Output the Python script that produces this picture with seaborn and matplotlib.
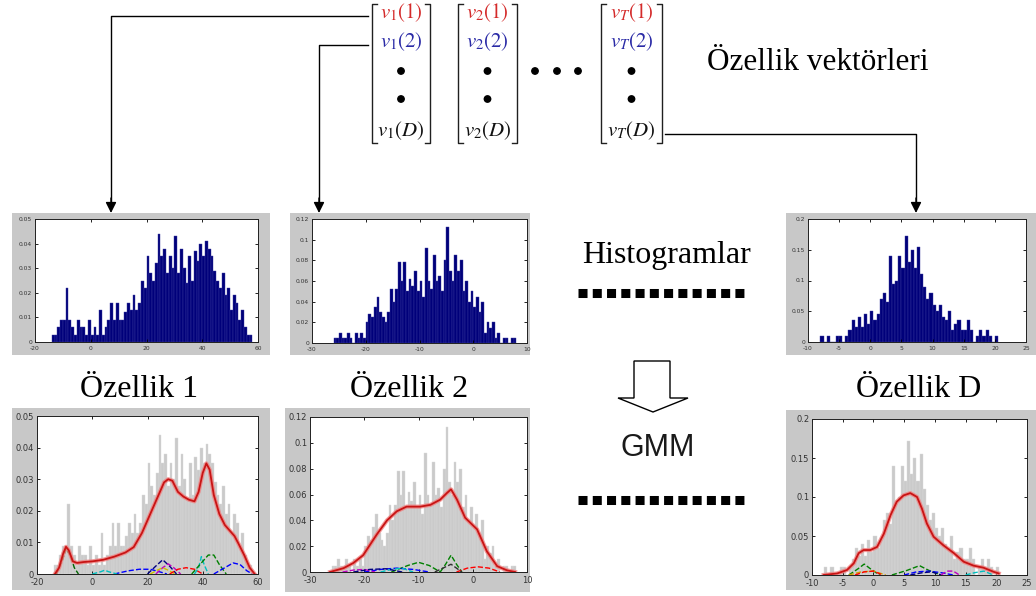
import numpy as np
import pandas as pd
import matplotlib
matplotlib.use("Agg")
import matplotlib.pyplot as plt
from matplotlib.patches import Rectangle, Polygon, Circle
import seaborn as sns

# histogram bin heights
f1_start, f1_width = -14, 1.0
f1_heights = [0.003, 0.003, 0.006, 0.009, 0.009, 0.022, 0.009, 0.006, 0.003, 0.009,
              0.006, 0.006, 0.003, 0.009, 0.003, 0.006, 0.003, 0.013, 0.003, 0.006,
              0.009, 0.016, 0.009, 0.016, 0.009, 0.009, 0.012, 0.016, 0.013, 0.019,
              0.013, 0.016, 0.025, 0.022, 0.035, 0.028, 0.025, 0.032, 0.044, 0.035,
              0.038, 0.028, 0.035, 0.030, 0.043, 0.028, 0.038, 0.030, 0.024, 0.035,
              0.025, 0.037, 0.033, 0.040, 0.035, 0.041, 0.038, 0.035, 0.029, 0.025,
              0.022, 0.028, 0.019, 0.022, 0.013, 0.019, 0.016, 0.009, 0.013, 0.006,
              0.003, 0.003]

f2_start, f2_width = -26, 0.5
f2_heights = [0.005, 0.005, 0.010, 0.005, 0.005, 0.010, 0.005, 0.0, 0.010, 0.005,
              0.010, 0.005, 0.020, 0.028, 0.025, 0.035, 0.045, 0.030, 0.025, 0.020,
              0.030, 0.052, 0.040, 0.052, 0.078, 0.060, 0.078, 0.050, 0.062, 0.055,
              0.070, 0.050, 0.060, 0.045, 0.092, 0.060, 0.052, 0.085, 0.060, 0.065,
              0.050, 0.080, 0.112, 0.070, 0.060, 0.085, 0.070, 0.080, 0.050, 0.060,
              0.040, 0.050, 0.035, 0.045, 0.030, 0.040, 0.010, 0.020, 0.015, 0.020,
              0.005, 0.010, 0.0, 0.005, 0.005, 0.0, 0.005, 0.005]

fD_start, fD_width = -8, 0.5
fD_heights = [0.01, 0.0, 0.01, 0.0, 0.0, 0.01, 0.01, 0.0, 0.01, 0.02,
              0.035, 0.025, 0.04, 0.025, 0.045, 0.03, 0.05, 0.035, 0.045, 0.07,
              0.08, 0.065, 0.14, 0.095, 0.10, 0.14, 0.12, 0.172, 0.13, 0.15,
              0.12, 0.155, 0.11, 0.09, 0.07, 0.08, 0.06, 0.05, 0.06, 0.04,
              0.035, 0.05, 0.02, 0.03, 0.035, 0.02, 0.02, 0.035, 0.02, 0.0,
              0.01, 0.02, 0.01, 0.02, 0.01, 0.0, 0.01]

# GMM total density (red curve)
gmm1_x = [-13.5, -12, -10.5, -9.5, -8.5, -7, -5.5, -3, 0, 4, 8, 12, 15, 18, 21, 24, 26,
          27.5, 29, 31, 33, 35, 37, 38.5, 40, 41.3, 42.5, 44, 46, 48, 50, 51.5, 53, 55,
          57, 58.8]
gmm1_y = [0, 0.002, 0.0065, 0.0086, 0.0075, 0.004, 0.0035, 0.0038, 0.004, 0.0045,
          0.0055, 0.0068, 0.0085, 0.013, 0.019, 0.025, 0.029, 0.030, 0.0295, 0.026,
          0.0245, 0.0235, 0.023, 0.026, 0.032, 0.035, 0.033, 0.025, 0.019, 0.0155,
          0.0135, 0.012, 0.0095, 0.006, 0.002, 0.0]

gmm2_x = [-26.3, -23.8, -22, -20.2, -17.7, -15.8, -14, -12.2, -9.7, -7.8, -6, -4.8, -4,
          -2.9, -1.4, 0.8, 2.6, 4.5, 6.3, 7.8]
gmm2_y = [0, 0.003, 0.007, 0.013, 0.029, 0.040, 0.047, 0.0506, 0.0506, 0.052, 0.056,
          0.061, 0.064, 0.056, 0.042, 0.033, 0.016, 0.0045, 0.0013, 0]

gmmD_x = [-8.1, -5.9, -4.3, -3.2, -2.4, -1.6, -0.5, 0.6, 1.7, 2.8, 3.8, 4.9, 6.0, 7.1,
          7.9, 8.7, 9.8, 11.4, 13.1, 14.7, 16.3, 17.9, 19.6, 20.4]
gmmD_y = [0, 0.002, 0.0064, 0.015, 0.028, 0.032, 0.032, 0.036, 0.053, 0.077, 0.094,
          0.102, 0.105, 0.100, 0.085, 0.066, 0.049, 0.038, 0.028, 0.017, 0.012, 0.0094,
          0.004, 0.002]

# mixture components (dashed)
comp1 = [([-13, -11, -9.5, -8, -6.5, -5], [0, 0.004, 0.008, 0.006, 0.002, 0], "#006400"),
         ([8, 13, 17, 21, 24, 27], [0, 0.001, 0.0015, 0.0015, 0.0008, 0], "#0000ff"),
         ([20, 23, 25.5, 28, 30.5], [0, 0.0025, 0.0045, 0.0025, 0], "#000080"),
         ([23, 25.5, 27.5, 29.5, 32], [0, 0.002, 0.0032, 0.002, 0], "#bf00bf"),
         ([21, 23.5, 25.5, 27.5, 30], [0, 0.0012, 0.002, 0.0012, 0], "#d0c000"),
         ([28, 31, 34, 37, 40], [0, 0.0015, 0.002, 0.0015, 0], "#ff0000"),
         ([37, 38.5, 39.5, 40.5, 42], [0, 0.002, 0.0055, 0.003, 0], "#00bfbf"),
         ([36, 39, 42, 44, 46, 48.5], [0, 0.003, 0.006, 0.006, 0.003, 0], "#008000"),
         ([44, 47, 51, 53.5, 56, 58], [0, 0.0015, 0.0035, 0.003, 0.001, 0], "#0000ff"),
         ([0, 3, 4.5, 6, 9], [0, 0.0007, 0.0012, 0.0007, 0], "#00bfbf")]

comp2 = [([-15, -12, -10, -8, -6], [0, 0.005, 0.0075, 0.005, 0], "#008000"),
         ([-6, -5, -4, -3, -2], [0, 0.006, 0.013, 0.006, 0], "#008000"),
         ([-20, -17, -14, -11, -8], [0, 0.002, 0.003, 0.002, 0], "#0000ff"),
         ([-17, -15, -13, -11], [0, 0.002, 0.003, 0], "#00bfbf"),
         ([-24, -22, -20, -18], [0, 0.0015, 0.002, 0], "#bf00bf"),
         ([-22, -19, -16, -13], [0, 0.002, 0.0025, 0], "#000080"),
         ([-3, -1, 1, 3, 5], [0, 0.003, 0.004, 0.003, 0], "#ff0000"),
         ([-7, -5, -4, -2], [0, 0.004, 0.006, 0], "#303030")]

compD = [([-4, -2.5, -1.5, -0.5, 1], [0, 0.008, 0.014, 0.008, 0], "#008000"),
         ([-4, -2, 0, 2], [0, 0.004, 0.005, 0], "#d0a000"),
         ([-3, -1.5, 0, 1.5], [0, 0.004, 0.005, 0], "#ff0000"),
         ([3, 5.5, 7.5, 9, 11], [0, 0.006, 0.012, 0.006, 0], "#008000"),
         ([5, 7, 9, 11, 13], [0, 0.004, 0.005, 0.003, 0], "#0000ff"),
         ([6, 8, 9.5, 11], [0, 0.003, 0.004, 0], "#000080"),
         ([11, 12, 13, 14], [0, 0.005, 0.005, 0], "#bf00bf"),
         ([15, 16.5, 18, 19.5], [0, 0.003, 0.005, 0], "#00bfbf")]

f1_xticks = [-20, 0, 20, 40, 60]
f1_yticks = [0, 0.01, 0.02, 0.03, 0.04, 0.05]
f2_xticks = [-30, -20, -10, 0, 10]
f2_yticks = [0, 0.02, 0.04, 0.06, 0.08, 0.1, 0.12]
fD_xticks = [-10, -5, 0, 5, 10, 15, 20, 25]
fD_yticks = [0, 0.05, 0.1, 0.15, 0.2]

W, H = 1036, 596
plt.rcParams["mathtext.fontset"] = "stix"
fig = plt.figure(figsize=(W / 100, H / 100), dpi=100)
fig.patch.set_facecolor("white")


def rect(l, t, r, b):
    return [l / W, 1 - b / H, (r - l) / W, (b - t) / H]


def frame(l, t, r, b):
    fig.patches.append(Rectangle((l / W, 1 - b / H), (r - l) / W, (b - t) / H,
                                 transform=fig.transFigure, facecolor="#c8c8c8",
                                 edgecolor="none", zorder=-5))


def fmt(v):
    return "0" if v == 0 else f"{v:g}"


def style_axes(ax, xlim, ylim, xticks, yticks, fs):
    ax.set_xlim(*xlim)
    ax.set_ylim(*ylim)
    ax.set_xticks(xticks)
    ax.set_yticks(yticks)
    ax.set_xticklabels([fmt(v) for v in xticks])
    ax.set_yticklabels([fmt(v) for v in yticks])
    ax.tick_params(direction="in", top=True, right=True, length=2.5, width=0.6,
                   labelsize=fs, labelcolor="#333333")
    ax.tick_params(axis="x", pad=3)
    ax.tick_params(axis="y", pad=2)
    for s in ax.spines.values():
        s.set_linewidth(0.7)
        s.set_color("#202020")
    ax.set_xlabel("")
    ax.set_ylabel("")
    ax.set_facecolor("white")


def draw_hist(ax, start, width, heights, color, edge):
    n = len(heights)
    centers = start + width * (np.arange(n) + 0.5)
    df = pd.DataFrame({"c": centers, "h": heights})
    sns.histplot(data=df, x="c", weights="h", binwidth=width,
                 binrange=(start, start + n * width), color=color,
                 edgecolor=edge, linewidth=0.3, alpha=1, ax=ax)


panels = [
    (f1_start, f1_width, f1_heights, (-20, 60), (0, 0.05), f1_xticks, f1_yticks,
     gmm1_x, gmm1_y, comp1, (12, 213, 270, 355), (35, 219, 258, 342),
     (12, 408, 270, 590), (37, 416, 258, 574)),
    (f2_start, f2_width, f2_heights, (-30, 10), (0, 0.12), f2_xticks, f2_yticks,
     gmm2_x, gmm2_y, comp2, (290, 213, 530, 355), (312, 219, 527, 343),
     (285, 408, 530, 592), (310, 417, 527, 572)),
    (fD_start, fD_width, fD_heights, (-10, 25), (0, 0.2), fD_xticks, fD_yticks,
     gmmD_x, gmmD_y, compD, (786, 213, 1036, 355), (808, 219, 1026, 342),
     (786, 410, 1036, 590), (812, 419, 1027, 575)),
]

for (st, wd, hts, xl, yl, xt, yt, gx, gy, comps, fr_top, ax_top, fr_bot, ax_bot) in panels:
    # top: raw histogram
    frame(*fr_top)
    ax = fig.add_axes(rect(*ax_top), zorder=2)
    draw_hist(ax, st, wd, hts, "#00007a", "#3c3ca0")
    style_axes(ax, xl, yl, xt, yt, 4.3)

    # bottom: histogram with GMM fit
    frame(*fr_bot)
    ax = fig.add_axes(rect(*ax_bot), zorder=2)
    draw_hist(ax, st, wd, hts, "#cacaca", "#dadada")
    for cx, cy, cc in comps:
        sns.lineplot(x=cx, y=cy, ax=ax, color=cc, linestyle="--", linewidth=1.0,
                     sort=False, estimator=None)
    sns.lineplot(x=gx, y=gy, ax=ax, color="#f08080", linewidth=3.0, sort=False,
                 estimator=None, alpha=0.8)
    sns.lineplot(x=gx, y=gy, ax=ax, color="#c81414", linewidth=1.3, sort=False,
                 estimator=None)
    style_axes(ax, xl, yl, xt, yt, 6)

# overlay for diagram parts
ov = fig.add_axes([0, 0, 1, 1], zorder=10)
ov.set_xlim(0, W)
ov.set_ylim(H, 0)
ov.axis("off")
ov.patch.set_alpha(0)

serif = "Liberation Serif"
ov.text(707, 70, "Özellik vektörleri", fontsize=22.5, family=serif, va="baseline")
ov.text(582, 263, "Histogramlar", fontsize=23, family=serif, va="baseline")
ov.text(80, 397, "Özellik 1", fontsize=23, family=serif, va="baseline")
ov.text(350, 397, "Özellik 2", fontsize=23, family=serif, va="baseline")
ov.text(856, 397, "Özellik D", fontsize=23, family=serif, va="baseline")
ov.text(620, 456, "GMM", fontsize=22, family="Liberation Sans", va="baseline",
        color="#1a1a1a")

# vector columns with brackets
cols = [(372, 430, "1"), (458, 517, "2"), (601, 662, "T")]
for l, r, sub in cols:
    for x, d in ((l, 5), (r, -5)):
        ov.plot([x + d, x, x, x + d], [4, 4, 143, 143], color="#202020", lw=1.0)
    cx = (l + r) / 2
    ov.text(cx, 13, rf"$v_{sub}(1)$", color="#d42a2a", fontsize=15, ha="center",
            va="center")
    ov.text(cx, 42, rf"$v_{sub}(2)$", color="#2a2aa6", fontsize=15, ha="center",
            va="center")
    ov.text(cx, 131, rf"$v_{sub}(D)$", color="#111111", fontsize=15, ha="center",
            va="center")
    for dy in (71, 99):
        ov.add_patch(Circle((cx, dy), 3.2, color="black"))
for dx in (535, 557, 578):
    ov.add_patch(Circle((dx, 71), 3.2, color="black"))

# connector arrows
arrow_kw = dict(arrowstyle="-|>", color="black", lw=1.0, mutation_scale=16,
                shrinkA=0, shrinkB=0)
ov.plot([368, 111, 111], [16, 16, 202], color="black", lw=1.0)
ov.annotate("", xy=(111, 213), xytext=(111, 198), arrowprops=arrow_kw)
ov.plot([368, 319, 319], [45, 45, 202], color="black", lw=1.0)
ov.annotate("", xy=(319, 213), xytext=(319, 198), arrowprops=arrow_kw)
ov.plot([665, 916, 916], [134, 134, 202], color="black", lw=1.0)
ov.annotate("", xy=(916, 213), xytext=(916, 198), arrowprops=arrow_kw)

# thick dotted separators
for yy in (293, 500):
    ov.plot([578, 747], [yy, yy], color="black", lw=6.5, solid_capstyle="butt",
            dash_capstyle="butt", linestyle=(0, (1.0, 0.58)))

# hollow block arrow
ov.add_patch(Polygon([(634, 361), (670, 361), (670, 398), (688, 398), (653, 412),
                      (618, 398), (634, 398)], closed=True, facecolor="white",
                     edgecolor="black", lw=1.0))

fig.savefig("out.png", dpi=100)
